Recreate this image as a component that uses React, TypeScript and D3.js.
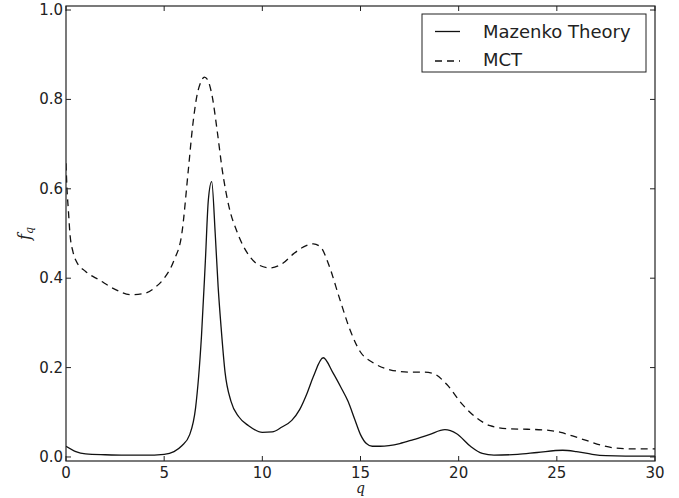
import React from "react";
import * as d3 from "d3";

const qMazenko = [0, 0.5, 1, 2, 3, 4, 5, 5.5, 5.9, 6.3, 6.6, 6.9, 7.1, 7.25, 7.42, 7.6, 7.75, 7.9, 8.1, 8.4, 8.8, 9.3, 10, 10.5, 11, 11.5, 11.9, 12.3, 12.6, 13.1, 13.6, 14.0, 14.37, 14.7, 15.0, 15.3, 15.6, 16, 17, 17.7, 18.5, 19.3, 19.9, 20.6, 21.2, 21.8, 23, 24, 25.3, 26, 26.8, 27.5, 28.5, 30];
const fMazenko = [0.024, 0.012, 0.007, 0.005, 0.004, 0.004, 0.006, 0.012, 0.025, 0.05, 0.11, 0.27, 0.44, 0.575, 0.616, 0.5, 0.38, 0.29, 0.19, 0.125, 0.09, 0.07, 0.055, 0.056, 0.067, 0.082, 0.106, 0.145, 0.18, 0.222, 0.188, 0.156, 0.124, 0.085, 0.05, 0.03, 0.024, 0.024, 0.03, 0.039, 0.05, 0.061, 0.052, 0.024, 0.008, 0.004, 0.006, 0.01, 0.015, 0.012, 0.006, 0.003, 0.002, 0.002];

const qMCT = [0, 0.05, 0.12, 0.2, 0.35, 0.5, 1, 1.7, 2.5, 3.3, 4, 4.5, 5, 5.5, 5.9, 6.23, 6.45, 6.66, 6.88, 7.05, 7.2, 7.45, 7.7, 7.96, 8.3, 8.7, 9.37, 9.8, 10.4, 11, 11.6, 12.1, 12.6, 13.0, 13.35, 13.96, 14.47, 14.98, 15.64, 16.5, 17.5, 18.2, 18.7, 19.4, 20.2, 20.9, 21.6, 22.6, 23.5, 24.5, 25.2, 25.8, 26.5, 27.3, 28, 29, 30];
const fMCT = [0.657, 0.6, 0.553, 0.5, 0.46, 0.44, 0.415, 0.396, 0.375, 0.363, 0.366, 0.378, 0.4, 0.44, 0.5, 0.642, 0.74, 0.806, 0.84, 0.85, 0.845, 0.806, 0.73, 0.642, 0.56, 0.505, 0.448, 0.43, 0.423, 0.432, 0.455, 0.47, 0.477, 0.468, 0.434, 0.351, 0.284, 0.236, 0.211, 0.195, 0.19, 0.19, 0.187, 0.162, 0.117, 0.088, 0.07, 0.063, 0.062, 0.06, 0.055, 0.047, 0.037, 0.026, 0.02, 0.018, 0.018];

const xTicks = [0, 5, 10, 15, 20, 25, 30];
const yTicks = [0.0, 0.2, 0.4, 0.6, 0.8, 1.0];
const seriesNames = ["Mazenko Theory", "MCT"];

const W = 679, H = 498;
const L = 66, R = 655, T = 6, B = 461;

export default function App() {
  const x = d3.scaleLinear().domain([0, 30]).range([L, R]);
  const y = d3.scaleLinear().domain([-0.009, 1.009]).range([B, T]);
  const line = d3.line<number>().curve(d3.curveMonotoneX);
  const pathM = line(qMazenko.map((q, i) => [x(q), y(fMazenko[i])] as any) as any);
  const pathC = line(qMCT.map((q, i) => [x(q), y(fMCT[i])] as any) as any);
  const font = "DejaVu Sans, sans-serif";
  const tk = 5;
  return (
    <svg width={W} height={H} style={{ position: "absolute", left: 0, top: 0, background: "#fff" }}>
      <defs>
        <clipPath id="clip">
          <rect x={L} y={T} width={R - L} height={B - T} />
        </clipPath>
      </defs>
      <g clipPath="url(#clip)" fill="none" stroke="#111" strokeWidth={1.3}>
        <path d={pathC || ""} strokeDasharray="7,5" />
        <path d={pathM || ""} />
      </g>
      <rect x={L} y={T} width={R - L} height={B - T} fill="none" stroke="#222" strokeWidth={1.2} />
      {xTicks.map((t) => (
        <g key={"x" + t}>
          <line x1={x(t)} x2={x(t)} y1={B} y2={B - tk} stroke="#222" />
          <line x1={x(t)} x2={x(t)} y1={T} y2={T + tk} stroke="#222" />
          <text x={x(t)} y={B + 17} textAnchor="middle" fontFamily={font} fontSize={15} fill="#222">{t}</text>
        </g>
      ))}
      {yTicks.map((t) => (
        <g key={"y" + t}>
          <line x1={L} x2={L + tk} y1={y(t)} y2={y(t)} stroke="#222" />
          <line x1={R} x2={R - tk} y1={y(t)} y2={y(t)} stroke="#222" />
          <text x={L - 3} y={y(t) + 5} textAnchor="end" fontFamily={font} fontSize={15} fill="#222">{t.toFixed(1)}</text>
        </g>
      ))}
      <text x={(L + R) / 2} y={492.5} textAnchor="middle" fontFamily="DejaVu Serif, serif" fontStyle="italic" fontSize={14} fill="#222">q</text>
      <g transform={`translate(30, ${(T + B) / 2}) rotate(-90)`}>
        <text x={0} y={0} textAnchor="middle" fontFamily="DejaVu Serif, serif" fontStyle="italic" fontSize={16} fill="#222">
          f<tspan fontSize={11} dy={3}>q</tspan>
        </text>
      </g>
      <g>
        <rect x={422} y={14} width={224} height={58} fill="#fff" stroke="#222" strokeWidth={1} />
        <line x1={435} x2={460} y1={31.5} y2={31.5} stroke="#111" strokeWidth={1.3} />
        <line x1={435} x2={460} y1={61} y2={61} stroke="#111" strokeWidth={1.3} strokeDasharray="7,5" />
        <text x={483} y={37.5} fontFamily={font} fontSize={18} fill="#222">{seriesNames[0]}</text>
        <text x={483} y={66} fontFamily={font} fontSize={18} fill="#222">{seriesNames[1]}</text>
      </g>
    </svg>
  );
}
